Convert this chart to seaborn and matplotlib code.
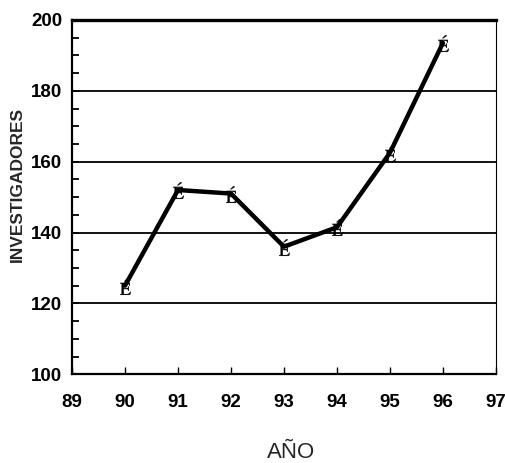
import matplotlib
matplotlib.use('Agg')
import matplotlib.pyplot as plt
import seaborn as sns
from matplotlib.ticker import MultipleLocator

years = [90, 91, 92, 93, 94, 95, 96]
researchers = [125, 152, 151, 136, 141.5, 162.5, 193.5]

sns.set_style('white')
plt.rcParams['font.family'] = ['Liberation Sans', 'DejaVu Sans']
plt.rcParams['mathtext.fontset'] = 'stix'

fig = plt.figure(figsize=(5.05, 4.63), dpi=100)
ax = fig.add_axes([0.1426, 0.1916, 0.8394, 0.7654])

sns.lineplot(x=years, y=researchers, ax=ax, color='black', linewidth=3.2,
             marker=r'$\mathrm{É}$', markersize=12, markeredgewidth=0.3,
             markerfacecolor='black', markeredgecolor='black')

ax.set_xlim(89, 97)
ax.set_ylim(100, 200)
ax.xaxis.set_major_locator(MultipleLocator(1))
ax.yaxis.set_major_locator(MultipleLocator(20))
ax.yaxis.set_minor_locator(MultipleLocator(5))
ax.grid(axis='y', which='major', color='black', linewidth=1.3)
ax.grid(axis='x', visible=False)

ax.tick_params(axis='y', which='both', direction='in', left=True, right=False,
               length=5, width=1.3, color='black', pad=7,
               labelsize=13.5, labelcolor='black')
ax.tick_params(axis='x', which='major', direction='in', bottom=True, top=False,
               length=5, width=1.0, color='black', pad=14,
               labelsize=13.5, labelcolor='black')
for lbl in ax.get_xticklabels() + ax.get_yticklabels():
    lbl.set_fontweight('bold')

for side, lw in [('top', 2.4), ('left', 1.6), ('bottom', 1.6), ('right', 0.8)]:
    ax.spines[side].set_visible(True)
    ax.spines[side].set_color('black')
    ax.spines[side].set_linewidth(lw)

ax.set_ylabel('INVESTIGADORES', fontsize=12.5, fontweight='bold', va='center')
ax.yaxis.set_label_coords(-0.13, 0.535)
ax.set_xlabel('AÑO', fontsize=16, va='center')
ax.xaxis.set_label_coords(0.517, -0.222)

fig.savefig('out.png', dpi=100)
